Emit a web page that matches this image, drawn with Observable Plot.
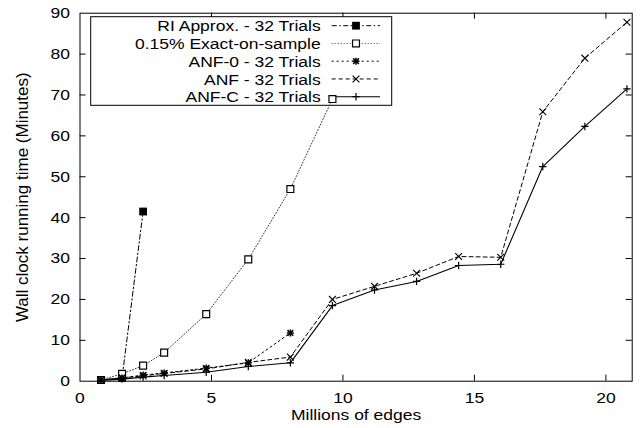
<!DOCTYPE html>
<html><head><meta charset="utf-8">
<script src="https://cdn.jsdelivr.net/npm/d3@7"></script>
<script src="https://cdn.jsdelivr.net/npm/@observablehq/plot@0.6"></script>
<style>
html,body{margin:0;padding:0;background:#fff;}
svg{display:block;}
</style>
</head><body><div id="chart"></div>
<script>
// ---- data ----
const edges = [0.8, 1.6, 2.4, 3.2, 4.8, 6.4, 8.0, 9.6, 11.2, 12.8, 14.4, 16.0, 17.6, 19.2, 20.8];
const riApprox = [0.3, 0.8, 41.5];
const exactOnSample = [0.3, 1.8, 3.8, 7.0, 16.4, 29.8, 47.0, 69.0];
const anf0 = [0.3, 0.8, 1.5, 2.0, 3.2, 4.5, 11.8];
const anf = [0.3, 0.8, 1.3, 1.9, 3.0, 4.6, 5.9, 20.0, 23.2, 26.4, 30.5, 30.3, 65.9, 79.0, 87.8];
const anfC = [0.2, 0.5, 1.0, 1.4, 2.2, 3.6, 4.5, 18.5, 22.3, 24.4, 28.3, 28.6, 52.5, 62.3, 71.5];
const seriesNames = ["RI Approx. - 32 Trials", "0.15% Exact-on-sample", "ANF-0 - 32 Trials", "ANF - 32 Trials", "ANF-C - 32 Trials"];
const xTicks = [0, 5, 10, 15, 20];
const yTicks = [0, 10, 20, 30, 40, 50, 60, 70, 80, 90];
const xLabel = "Millions of edges";
const yLabel = "Wall clock running time (Minutes)";

// ---- styles ----
const W = 642, H = 428;
const mL = 79.5, mR = 10.3, mT = 12.7, mB = 47.3;
const plotW = W - mL - mR, plotH = H - mT - mB;
const FONT = "'Liberation Sans', Arial, Helvetica, sans-serif";
const FS = 15.5;        // horizontal text size
const STRETCH = 1.13;   // horizontal stretch of the reference's glyphs
const FS_Y = 17;        // rotated label size
// each style: list of marker layers [symbol, r, fill, strokeWidth]
const styles = [
  {markers: [["square", 4.4, "#000", 0]], dash: "5,2.5,1.5,2.5", sw: 1, lineStroke: "#000"},
  {markers: [["square", 3.9, "#fff", 1.2]], dash: "1,2", sw: 0.9, lineStroke: "#222"},
  {markers: [["plus", 2.4, "none", 1.5], ["times", 2.7, "none", 1.5]], dash: "2,3", sw: 1, lineStroke: "#000"},
  {markers: [["times", 3.2, "none", 1.1]], dash: "4,3", sw: 1, lineStroke: "#000"},
  {markers: [["plus", 2.5, "none", 1.2]], dash: null, sw: 1.1, lineStroke: "#000"}
];
const seriesVals = [riApprox, exactOnSample, anf0, anf, anfC];
const series = seriesVals.map((vals, i) => vals.map((v, j) => ({x: edges[j], y: v, s: seriesNames[i]})));

const lineMarks = series.map((d, i) => Plot.line(d, {
  x: "x", y: "y", stroke: styles[i].lineStroke, strokeWidth: styles[i].sw,
  strokeDasharray: styles[i].dash
}));
const dotMarks = series.flatMap((d, i) => styles[i].markers.map(([sym, r, fill, sw]) => Plot.dot(d, {
  x: "x", y: "y", symbol: sym, r: r,
  fill: fill, stroke: sw > 0 ? "#000" : "none", strokeWidth: sw
})));

const plot = Plot.plot({
  width: W, height: H,
  marginLeft: mL, marginRight: mR, marginTop: mT, marginBottom: mB,
  x: {domain: [0, 21]},
  y: {domain: [0, 90]},
  style: {fontFamily: FONT, fontSize: FS + "px", color: "#000", background: "#fff"},
  marks: [
    Plot.axisX({ticks: xTicks, tickSize: 0, tickPadding: 10.5, label: null, fontSize: FS}),
    Plot.axisY({ticks: yTicks, tickSize: 0, tickPadding: 10, label: null, fontSize: FS}),
    Plot.tickX(xTicks.slice(1), {x: d => d, insetTop: plotH - 6, stroke: "#000"}),
    Plot.tickX(xTicks.slice(1), {x: d => d, insetBottom: plotH - 6, stroke: "#000"}),
    Plot.tickY(yTicks.slice(1, -1), {y: d => d, insetRight: plotW - 6, stroke: "#000"}),
    Plot.tickY(yTicks.slice(1, -1), {y: d => d, insetLeft: plotW - 6, stroke: "#000"}),
    Plot.text([xLabel], {text: d => d, frameAnchor: "bottom", textAnchor: "middle", dy: 33.8, lineAnchor: "middle", fontSize: FS}),
    Plot.text([yLabel], {text: d => d, frameAnchor: "left", textAnchor: "middle", rotate: -90, dx: -57.9, lineAnchor: "middle", fontSize: FS_Y}),
    ...lineMarks,
    ...dotMarks,
    Plot.frame({stroke: "#000", strokeWidth: 1})
  ]
});
document.getElementById("chart").appendChild(plot);

// ---- legend (key box, drawn under the data like gnuplot) ----
const ns = "http://www.w3.org/2000/svg";
const leg = document.createElementNS(ns, "g");
const firstLine = plot.querySelector('g[aria-label="line"]');
plot.insertBefore(leg, firstLine);
const L = d3.select(leg);
L.append("rect").attr("x", 90.7).attr("y", 16.7).attr("width", 301).attr("height", 88.6)
  .attr("fill", "#fff").attr("stroke", "#000").attr("stroke-width", 1);
const symMap = {square: d3.symbolSquare, times: d3.symbolTimes, plus: d3.symbolPlus};
const rowY0 = 25.7, rowStep = 17.75;
seriesNames.forEach((name, i) => {
  const y = rowY0 + i * rowStep;
  const st = styles[i];
  L.append("text").attr("x", 320.7).attr("y", y).attr("dy", "0.36em")
    .attr("text-anchor", "end").attr("font-family", FONT).attr("font-size", FS).attr("fill", "#000")
    .text(name);
  L.append("line").attr("x1", 331.7).attr("x2", 380).attr("y1", y).attr("y2", y)
    .attr("stroke", st.lineStroke).attr("stroke-width", st.sw)
    .attr("stroke-dasharray", st.dash);
  st.markers.forEach(([sym, r, fill, sw]) => {
    L.append("path").attr("transform", `translate(356,${y})`)
      .attr("d", d3.symbol(symMap[sym], r * r * Math.PI)())
      .attr("fill", fill).attr("stroke", sw > 0 ? "#000" : "none").attr("stroke-width", sw);
  });
});

// ---- stretch horizontal texts about their anchor (the reference's glyphs are wide) ----
plot.querySelectorAll("text").forEach(t => {
  const tr = t.getAttribute("transform") || "";
  if (tr.includes("rotate")) return;
  const b = t.getBBox();
  const anchor = getComputedStyle(t).textAnchor;
  const ax = anchor === "end" ? b.x + b.width : anchor === "middle" ? b.x + b.width / 2 : b.x;
  t.setAttribute("transform", `${tr} translate(${ax},0) scale(${STRETCH},1) translate(${-ax},0)`.trim());
});
</script>
</body></html>
